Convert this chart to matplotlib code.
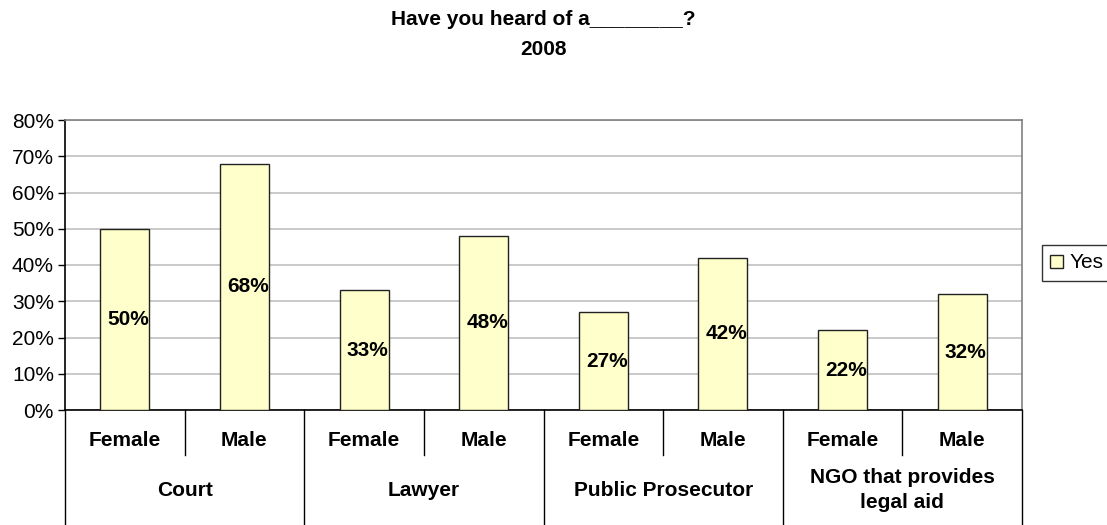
import matplotlib
matplotlib.use("Agg")
import matplotlib.pyplot as plt
from matplotlib.patches import Patch

plt.rcParams['font.family'] = ['Liberation Sans', 'DejaVu Sans']

groups = ["Court", "Lawyer", "Public Prosecutor", "NGO that provides\nlegal aid"]
genders = ["Female", "Male"]
values = [50, 68, 33, 48, 27, 42, 22, 32]
value_labels = ["50%", "68%", "33%", "48%", "27%", "42%", "22%", "32%"]
yticks = [0, 10, 20, 30, 40, 50, 60, 70, 80]
ytick_labels = ["0%", "10%", "20%", "30%", "40%", "50%", "60%", "70%", "80%"]
series_name = "Yes"
title = "Have you heard of a________?\n2008"

W, H = 1107, 525
fig = plt.figure(figsize=(W / 100, H / 100), dpi=100)
L, R, T, B = 65, 1022, 120, 410
ax = fig.add_axes([L / W, 1 - B / H, (R - L) / W, (B - T) / H])

n = len(values)
xs = list(range(n))
ax.bar(xs, values, width=0.41, color="#FFFFCC", edgecolor="#222222", linewidth=1.0, zorder=3)
ax.set_xlim(-0.5, n - 0.5)
ax.set_ylim(0, 80)
ax.set_yticks(yticks)
ax.set_yticklabels(ytick_labels, fontsize=15)
ax.yaxis.grid(True, color="#c0c0c0", linewidth=1.2, zorder=0)
ax.tick_params(axis='y', length=5, width=1, pad=3)
ax.set_xticks([])
for s in ["left", "bottom"]:
    ax.spines[s].set_color("black")
    ax.spines[s].set_linewidth(1.2)
for s in ["top", "right"]:
    ax.spines[s].set_color("#808080")
    ax.spines[s].set_linewidth(1.2)

for x, v, lab in zip(xs, values, value_labels):
    ax.text(x + 0.03, v / 2, lab, ha="center", va="center", fontsize=15, fontweight="bold", zorder=4)

trans = ax.get_xaxis_transform()

def ax_y(py):
    return (B - py) / (B - T)

for i, g in enumerate(genders * len(groups)):
    ax.text(i, ax_y(440), g, transform=trans, ha="center", va="center",
            fontsize=15, fontweight="bold", clip_on=False)
for gi, grp in enumerate(groups):
    cx = gi * 2 + 0.5
    ax.text(cx, ax_y(490), grp, transform=trans, ha="center", va="center",
            fontsize=15, fontweight="bold", clip_on=False, linespacing=1.4)
    ax.plot([cx, cx], [0, ax_y(455)], transform=trans, color="black", lw=1.0, clip_on=False)
for k in range(len(groups) + 1):
    xk = k * 2 - 0.5
    ax.plot([xk, xk], [0, ax_y(H + 2)], transform=trans, color="black", lw=1.0, clip_on=False)

fig.text((L + R) / 2 / W, 1 - 10 / H, title, ha="center", va="top", fontsize=15,
         fontweight="bold", linespacing=1.75)

leg = fig.legend(handles=[Patch(facecolor="#FFFFCC", edgecolor="#222222", label=series_name)],
                 loc="center left", bbox_to_anchor=(1042 / W, 1 - 263 / H), fontsize=15,
                 frameon=True, fancybox=False, handlelength=0.6, handleheight=0.6,
                 handletextpad=0.3, borderpad=0.4, borderaxespad=0)
leg.get_frame().set_edgecolor("black")
leg.get_frame().set_linewidth(1.0)

fig.savefig("out.png", dpi=100)
